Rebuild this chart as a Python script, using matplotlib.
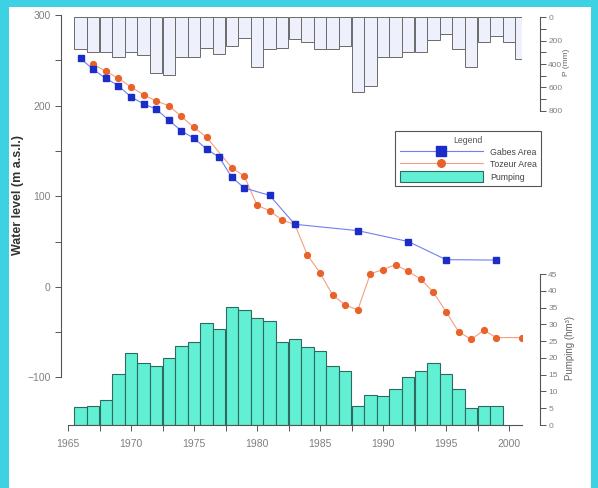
import matplotlib
matplotlib.use('Agg')
import matplotlib.pyplot as plt
from matplotlib.patches import Rectangle
from matplotlib.ticker import MultipleLocator, FixedLocator

plt.rcParams['font.family'] = ['Liberation Sans', 'DejaVu Sans']

# ---------------- data ----------------
gabes_years = [1966, 1967, 1968, 1969, 1970, 1971, 1972, 1973, 1974, 1975,
               1976, 1977, 1978, 1979, 1981, 1983, 1988, 1992, 1995, 1999]
gabes_level = [252, 240, 230, 222, 209.5, 202, 196, 184, 172, 164,
               152, 143, 121, 109, 101, 69, 62, 50, 30, 29.5]

tozeur_years = [1967, 1968, 1969, 1970, 1971, 1972, 1973, 1974, 1975, 1976,
                1978, 1979, 1980, 1981, 1982, 1983, 1984, 1985, 1986, 1987,
                1988, 1989, 1990, 1991, 1992, 1993, 1994, 1995, 1996, 1997,
                1998, 1999, 2001]
tozeur_level = [245.5, 238, 230, 220.5, 212, 205, 200, 188, 176, 165,
                131.5, 122, 90, 84, 73.5, 69, 35, 15.5, -9, -20,
                -25.5, 14.5, 19, 24.5, 17, 8.5, -6, -27.5, -49.5, -58,
                -48, -56, -56]

pump_years = list(range(1966, 2000))
pumping = [5.5, 5.8, 7.4, 15.2, 21.5, 18.4, 17.6, 19.9, 23.5, 24.8,
           30.3, 28.6, 35.1, 34.3, 32.0, 31.0, 24.8, 25.5, 23.1, 22.0,
           17.6, 16.1, 5.8, 8.9, 8.7, 10.6, 14.4, 16.2, 18.6, 15.2,
           10.6, 5.0, 5.8, 5.8]

rain_years = list(range(1966, 2002))
rain = [273, 301, 301, 338, 301, 321, 479, 493, 338, 338,
        259, 315, 250, 180, 428, 273, 259, 185, 211, 273,
        273, 245, 639, 592, 343, 343, 301, 301, 197, 140,
        273, 428, 208, 160, 208, 358]

xticks_major = [1965, 1970, 1975, 1980, 1985, 1990, 1995, 2000]

# ---------------- figure ----------------
W, H = 598, 488
fig = plt.figure(figsize=(W / 100, H / 100), dpi=100, facecolor='#3CD2E4')
fig.patches.append(Rectangle((9 / W, 0), (591 - 9) / W, 1 - 7 / H,
                             transform=fig.transFigure, facecolor='white',
                             edgecolor='none', zorder=-10))

ax_left, ax_right = 68, 521.6
ax_top, ax_bot = 15, 425
rect = [ax_left / W, 1 - ax_bot / H, (ax_right - ax_left) / W, (ax_bot - ax_top) / H]

spine_c = '#555555'
tick_c = '#808080'

ax = fig.add_axes(rect)
ax.set_facecolor('none')
ax_pump = ax.twinx()
ax_rain = ax.twinx()
ax.set_zorder(3)
ax_pump.set_zorder(1)
ax_rain.set_zorder(2)

# main water-level axis
ax.set_xlim(1965, 2001)
ax.set_ylim(-152.5, 300)
line_g, = ax.plot(gabes_years, gabes_level, '-', color='#7080F0', lw=0.8,
                  marker='s', ms=5.0, mfc='#1A2DC8', mec='#1A2DC8', zorder=5)
line_t, = ax.plot(tozeur_years, tozeur_level, '-', color='#F4A07E', lw=0.8,
                  marker='o', ms=4.2, mfc='#E8622A', mec='#E8622A', zorder=4)

for s in ['top', 'right']:
    ax.spines[s].set_visible(False)
ax.spines['left'].set_position(('outward', 5))
ax.spines['left'].set_bounds(-100, 300)
ax.spines['left'].set_color(spine_c)
ax.spines['bottom'].set_color(spine_c)
ax.yaxis.set_major_locator(FixedLocator([-100, 0, 100, 200, 300]))
ax.yaxis.set_minor_locator(FixedLocator([-50, 50, 150, 250]))
ax.xaxis.set_major_locator(FixedLocator(xticks_major))
ax.xaxis.set_minor_locator(MultipleLocator(2.5))
ax.tick_params(axis='both', which='both', direction='out', colors=spine_c,
               labelcolor=tick_c, labelsize=7.5, width=0.7, length=4)
ax.tick_params(axis='x', which='both', pad=6)

# pumping axis (right, bottom part)
bars_p = ax_pump.bar(pump_years, pumping, width=1.0, color='#62F0D4',
                     edgecolor='#2E6A5E', linewidth=0.8, zorder=2)
ax_pump.set_ylim(0, 122.2)
for s in ['top', 'left', 'bottom']:
    ax_pump.spines[s].set_visible(False)
ax_pump.spines['right'].set_position(('outward', 13.2))
ax_pump.spines['right'].set_bounds(0, 45)
ax_pump.spines['right'].set_color(spine_c)
ax_pump.yaxis.set_major_locator(FixedLocator(list(range(0, 50, 5))))
ax_pump.tick_params(axis='y', direction='out', colors=spine_c,
                    labelcolor=tick_c, labelsize=6, length=4, width=0.7, pad=2)

# rainfall axis (right, top part, inverted)
ax_rain.bar(rain_years, rain, width=1.0, color='#EEF0FB',
            edgecolor='#6A6A6A', linewidth=0.7, zorder=2)
ax_rain.set_ylim(3485, -19)
for s in ['top', 'left', 'bottom']:
    ax_rain.spines[s].set_visible(False)
ax_rain.spines['right'].set_position(('outward', 13.2))
ax_rain.spines['right'].set_bounds(0, 800)
ax_rain.spines['right'].set_color(spine_c)
ax_rain.yaxis.set_major_locator(FixedLocator([0, 200, 400, 600, 800]))
ax_rain.yaxis.set_minor_locator(FixedLocator([100, 300, 500, 700]))
ax_rain.tick_params(axis='y', which='both', direction='out', colors=spine_c,
                    labelcolor=tick_c, labelsize=6, length=4, width=0.7, pad=2)

# axis labels
fig.text(18 / W, 1 - 195 / H, 'Water level (m a.s.l.)', rotation=90,
         ha='center', va='center', fontsize=9, fontweight='bold', color='#333333')
fig.text(567 / W, 1 - 62 / H, 'P (mm)', rotation=90,
         ha='center', va='center', fontsize=6, color='#666666')
fig.text(570 / W, 1 - 348 / H, 'Pumping (hm\u00b3)', rotation=90,
         ha='center', va='center', fontsize=7, color='#666666')

# legend
leg = fig.legend([line_g, line_t, bars_p], ['Gabes Area', 'Tozeur Area', 'Pumping'],
                 loc='upper left', bbox_to_anchor=(391 / W, 1 - 127 / H),
                 title='Legend', fontsize=6.3, title_fontsize=6.3, numpoints=1,
                 handlelength=9.5, handleheight=1.5, handletextpad=0.8,
                 labelspacing=0.2, borderpad=0.5, frameon=True, fancybox=False,
                 edgecolor='#555555', framealpha=1, markerscale=1.3)
leg.get_frame().set_linewidth(0.8)
leg.set_zorder(10)
for t in leg.get_texts():
    t.set_color('#444444')
leg.get_title().set_color('#555555')

fig.savefig('out.png', dpi=100, facecolor=fig.get_facecolor())
